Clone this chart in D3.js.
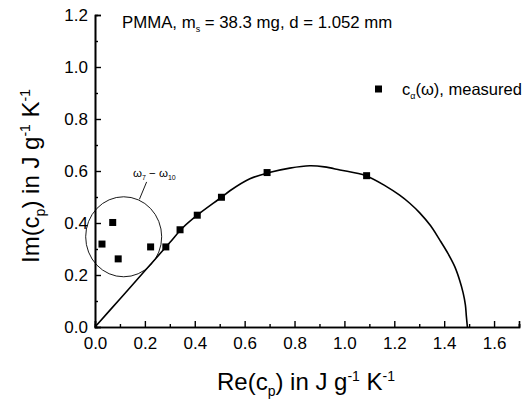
<!DOCTYPE html>
<html>
<head>
<meta charset="utf-8">
<script src="https://cdn.jsdelivr.net/npm/d3@7"></script>
<style>
  body { margin: 0; background: #fff; }
  svg text { font-family: "Liberation Sans", Arial, sans-serif; fill: #000; }
</style>
</head>
<body>
<div id="chart"></div>
<script>
const width = 524;
const height = 402;

// measured points c_alpha(omega)
const measuredRe = [0.028, 0.071, 0.093, 0.223, 0.284, 0.341, 0.41, 0.507, 0.69, 1.089];
const measuredIm = [0.319, 0.402, 0.262, 0.308, 0.308, 0.374, 0.43, 0.499, 0.594, 0.582];

// fitted curve
const fitRe = [0, 0.1, 0.2, 0.3, 0.35, 0.41, 0.507, 0.541, 0.621, 0.694, 0.781, 0.861, 0.92, 0.982, 1.086, 1.169, 1.22, 1.262, 1.302, 1.345, 1.382, 1.415, 1.442, 1.462, 1.476, 1.485, 1.489, 1.493];
const fitIm = [0, 0.108, 0.216, 0.325, 0.38, 0.43, 0.499, 0.524, 0.57, 0.593, 0.611, 0.62, 0.616, 0.604, 0.582, 0.54, 0.508, 0.476, 0.439, 0.39, 0.335, 0.283, 0.233, 0.18, 0.131, 0.085, 0.041, 0];

const xTicks = [0.0, 0.2, 0.4, 0.6, 0.8, 1.0, 1.2, 1.4, 1.6];
const yTicks = [0.0, 0.2, 0.4, 0.6, 0.8, 1.0, 1.2];

const margin = { left: 95, right: 5, top: 15, bottom: 75 };

const svg = d3.select("#chart").append("svg")
    .attr("width", width)
    .attr("height", height);

const x = d3.scaleLinear().domain([0, 1.7]).range([margin.left, width - margin.right]);
const y = d3.scaleLinear().domain([0, 1.2]).range([height - margin.bottom, margin.top]);

// axes: ticks pointing inward
const xAxis = d3.axisTop(x).tickValues(xTicks).tickFormat(d3.format(".1f")).tickSize(6).tickPadding(0);
const xMinor = d3.axisTop(x).tickValues(d3.range(1, 18, 2).map(d => d / 10)).tickFormat("").tickSize(3);
const yAxis = d3.axisRight(y).tickValues(yTicks).tickFormat(d3.format(".1f")).tickSize(6);
const yMinor = d3.axisRight(y).tickValues(d3.range(1, 12, 2).map(d => d / 10)).tickFormat("").tickSize(3);

const gx = svg.append("g").attr("transform", `translate(0,${y(0)})`).call(xAxis);
svg.append("g").attr("transform", `translate(0,${y(0)})`).call(xMinor);
const gy = svg.append("g").attr("transform", `translate(${x(0)},0)`).call(yAxis);
svg.append("g").attr("transform", `translate(${x(0)},0)`).call(yMinor);

svg.selectAll(".domain").attr("stroke", "#000").attr("stroke-width", 1.6);
svg.selectAll(".tick line").attr("stroke", "#000").attr("stroke-width", 1.4);

gx.selectAll(".tick text")
    .attr("y", 10)
    .attr("dy", "0.71em")
    .attr("font-size", 17);
gy.selectAll(".tick text")
    .attr("x", -7)
    .attr("text-anchor", "end")
    .attr("font-size", 17);

// fitted curve
const line = d3.line()
    .x((d, i) => x(fitRe[i]))
    .y((d, i) => y(fitIm[i]))
    .curve(d3.curveCatmullRom.alpha(0.5));

svg.append("path")
    .datum(fitRe)
    .attr("d", line)
    .attr("fill", "none")
    .attr("stroke", "#000")
    .attr("stroke-width", 1.6);

// measured squares
const sq = 7;
svg.selectAll(".pt")
    .data(measuredRe)
    .enter().append("rect")
    .attr("class", "pt")
    .attr("x", (d, i) => x(d) - sq / 2)
    .attr("y", (d, i) => y(measuredIm[i]) - sq / 2)
    .attr("width", sq)
    .attr("height", sq)
    .attr("fill", "#000");

// circle marking omega_7 - omega_10
svg.append("ellipse")
    .attr("cx", x(0.115))
    .attr("cy", y(0.347))
    .attr("rx", 38)
    .attr("ry", 40)
    .attr("fill", "none")
    .attr("stroke", "#000")
    .attr("stroke-width", 0.9);

svg.append("line")
    .attr("x1", x(0.178)).attr("y1", y(0.491))
    .attr("x2", x(0.207)).attr("y2", y(0.558))
    .attr("stroke", "#000")
    .attr("stroke-width", 0.9);

const om = svg.append("text")
    .attr("x", x(0.152))
    .attr("y", y(0.578))
    .attr("font-size", 11.5);
om.append("tspan").text("ω");
om.append("tspan").attr("dy", 3).attr("font-size", 7).text("7");
om.append("tspan").attr("dy", -3).text(" − ω");
om.append("tspan").attr("dy", 3).attr("font-size", 7).text("10");

// header annotation
const head = svg.append("text")
    .attr("x", 122)
    .attr("y", 28)
    .attr("font-size", 16.8);
head.append("tspan").text("PMMA, m");
head.append("tspan").attr("dy", 4).attr("font-size", 9).text("s");
head.append("tspan").attr("dy", -4).text(" = 38.3 mg, d = 1.052 mm");

// legend
svg.append("rect")
    .attr("x", 375).attr("y", 85.5)
    .attr("width", sq).attr("height", sq)
    .attr("fill", "#000");
const leg = svg.append("text")
    .attr("x", 402)
    .attr("y", 95)
    .attr("font-size", 16.5);
leg.append("tspan").text("c");
leg.append("tspan").attr("dy", 4).attr("font-size", 9).text("α");
leg.append("tspan").attr("dy", -4).text("(ω), measured");

// axis titles
const xt = svg.append("text")
    .attr("x", 306)
    .attr("y", 390)
    .attr("text-anchor", "middle")
    .attr("font-size", 24);
xt.append("tspan").text("Re(c");
xt.append("tspan").attr("dy", 6).attr("font-size", 14).text("p");
xt.append("tspan").attr("dy", -6).text(") in J g");
xt.append("tspan").attr("dy", -9).attr("font-size", 14).text("-1");
xt.append("tspan").attr("dy", 9).text(" K");
xt.append("tspan").attr("dy", -9).attr("font-size", 14).text("-1");

const yt = svg.append("text")
    .attr("transform", `translate(39,176) rotate(-90)`)
    .attr("text-anchor", "middle")
    .attr("font-size", 24);
yt.append("tspan").text("Im(c");
yt.append("tspan").attr("dy", 6).attr("font-size", 14).text("p");
yt.append("tspan").attr("dy", -6).text(") in J g");
yt.append("tspan").attr("dy", -9).attr("font-size", 14).text("-1");
yt.append("tspan").attr("dy", 9).text(" K");
yt.append("tspan").attr("dy", -9).attr("font-size", 14).text("-1");
</script>
</body>
</html>
